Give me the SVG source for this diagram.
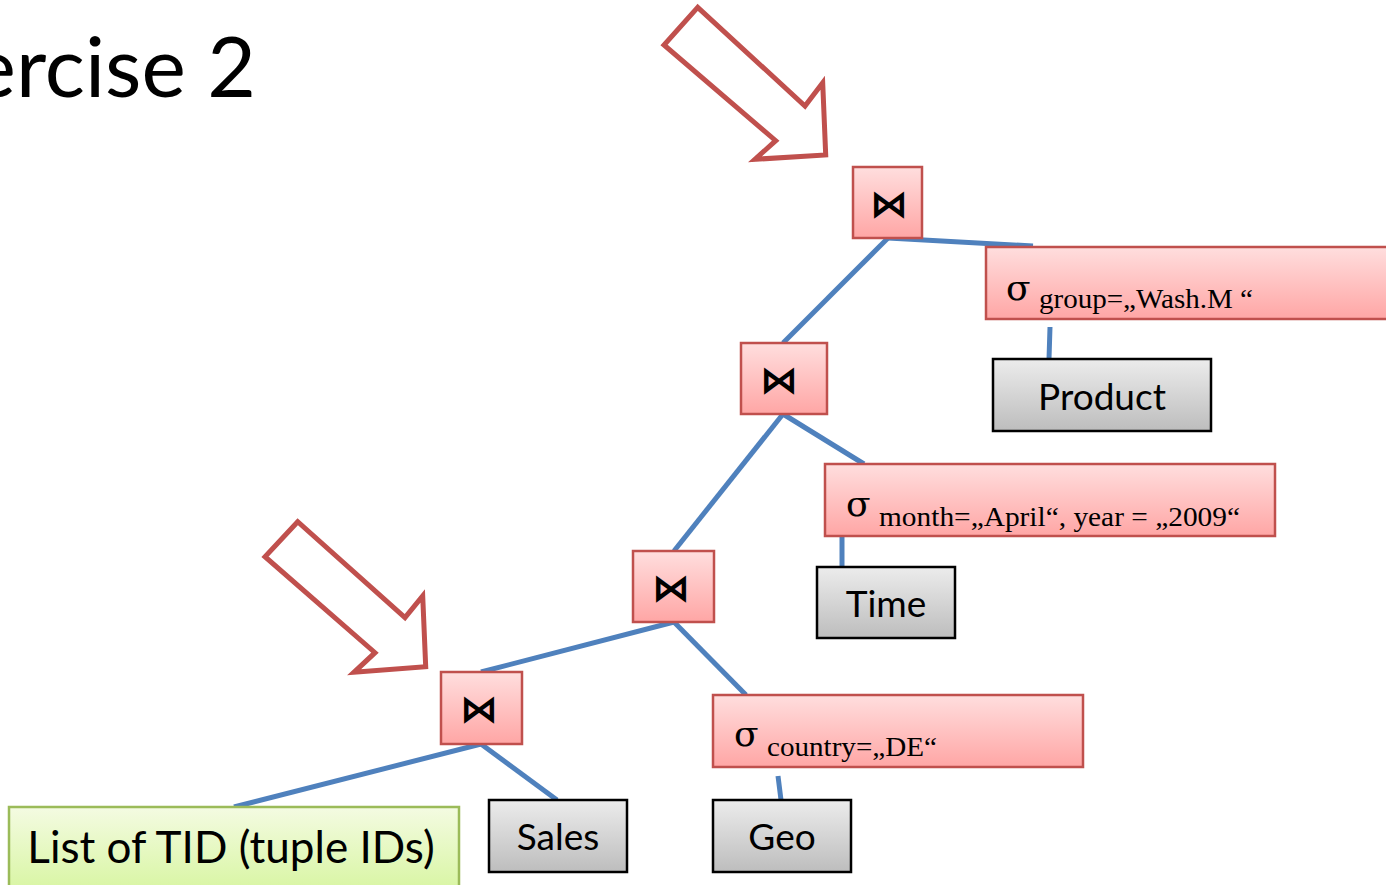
<svg xmlns="http://www.w3.org/2000/svg" width="1386" height="885" viewBox="0 0 1386 885">
<defs>
<linearGradient id="gPink" x1="0" y1="0" x2="0" y2="1">
<stop offset="0" stop-color="#FFDEDE"/><stop offset="1" stop-color="#FFA6A5"/>
</linearGradient>
<linearGradient id="gGray" x1="0" y1="0" x2="0" y2="1">
<stop offset="0" stop-color="#ECECEC"/><stop offset="1" stop-color="#BDBDBD"/>
</linearGradient>
<linearGradient id="gGreen" x1="0" y1="0" x2="0" y2="1">
<stop offset="0" stop-color="#F4FBE2"/><stop offset="1" stop-color="#D6F59E"/>
</linearGradient>
<style>
.op{fill:url(#gPink);stroke:#C0504D;stroke-width:2.5}
.tb{fill:url(#gGray);stroke:#000;stroke-width:2.5}
.tid{fill:url(#gGreen);stroke:#9BBB59;stroke-width:2.5}
.join{font-family:"DejaVu Sans",sans-serif;font-size:38px;font-weight:bold;fill:#000;text-anchor:middle}
.sig{font-family:"DejaVu Serif","Liberation Serif",serif;font-size:36px;fill:#000}
.sub{font-family:"Liberation Serif",serif;font-size:28px;fill:#000}
.lbl{font-family:Lato,"Liberation Sans",sans-serif;font-size:37px;fill:#000;text-anchor:middle}
.conn line{stroke:#4F81BD;stroke-width:5;stroke-linecap:butt}
.arrow{fill:none;stroke:#C0504D;stroke-width:5;stroke-linejoin:miter}
.title{font-family:Lato,"Open Sans",sans-serif;font-size:84px;fill:#000}
</style>
</defs>
<rect width="1386" height="885" fill="#fff"/>
<text class="title" x="256" y="97" text-anchor="end">ercise 2</text>
<polygon class="arrow" points="697.7,7.3 664,45 775.7,140.7 755,159.3 825.7,155 822.7,82.7 805,106"/>
<polygon class="arrow" points="297.7,521.7 265,556.7 375,652.7 354,672.3 425.7,666.7 422.7,596 405,617.7"/>
<g class="conn">
<line x1="888" y1="238" x2="783" y2="343"/>
<line x1="888" y1="238" x2="1033" y2="246"/>
<line x1="1050" y1="327" x2="1049" y2="359"/>
<line x1="783" y1="414" x2="674" y2="551"/>
<line x1="783" y1="414" x2="864" y2="464"/>
<line x1="842" y1="536" x2="842" y2="567"/>
<line x1="674" y1="622" x2="481" y2="672"/>
<line x1="674" y1="622" x2="746" y2="695"/>
<line x1="778" y1="776" x2="781" y2="800"/>
<line x1="481" y1="744" x2="234" y2="807"/>
<line x1="481" y1="744" x2="557" y2="800"/>
</g>
<g id="join1"><rect class="op" x="853" y="167" width="69" height="71"/><text class="join" x="889" y="217">⋈</text></g>
<g id="sel-group"><rect class="op" x="986" y="247" width="410" height="72"/><text x="1006" y="300"><tspan class="sig">σ</tspan><tspan class="sub" x="1039" y="308" textLength="214" lengthAdjust="spacingAndGlyphs">group=„Wash.M “</tspan></text></g>
<g id="product"><rect class="tb" x="993" y="359" width="218" height="72"/><text class="lbl" x="1102" y="410">Product</text></g>
<g id="join2"><rect class="op" x="741" y="343" width="86" height="71"/><text class="join" x="779" y="393">⋈</text></g>
<g id="sel-month"><rect class="op" x="825" y="464" width="450" height="72"/><text x="846" y="516"><tspan class="sig">σ</tspan><tspan class="sub" x="879" y="526" textLength="361" lengthAdjust="spacingAndGlyphs">month=„April“, year = „2009“</tspan></text></g>
<g id="time"><rect class="tb" x="817" y="567" width="138" height="71"/><text class="lbl" x="886" y="617">Time</text></g>
<g id="join3"><rect class="op" x="633" y="551" width="81" height="71"/><text class="join" x="671" y="601">⋈</text></g>
<g id="sel-country"><rect class="op" x="713" y="695" width="370" height="72"/><text x="734" y="746"><tspan class="sig">σ</tspan><tspan class="sub" x="767" y="756" textLength="170" lengthAdjust="spacingAndGlyphs">country=„DE“</tspan></text></g>
<g id="geo"><rect class="tb" x="713" y="800" width="138" height="72"/><text class="lbl" x="782" y="850">Geo</text></g>
<g id="join4"><rect class="op" x="441" y="672" width="81" height="72"/><text class="join" x="479" y="722">⋈</text></g>
<g id="sales"><rect class="tb" x="489" y="800" width="138" height="72"/><text class="lbl" x="558" y="850">Sales</text></g>
<g id="tid-list"><rect class="tid" x="9" y="807" width="450" height="90"/><text class="lbl" x="231" y="863" style="font-size:44px">List of TID (tuple IDs)</text></g>
</svg>
